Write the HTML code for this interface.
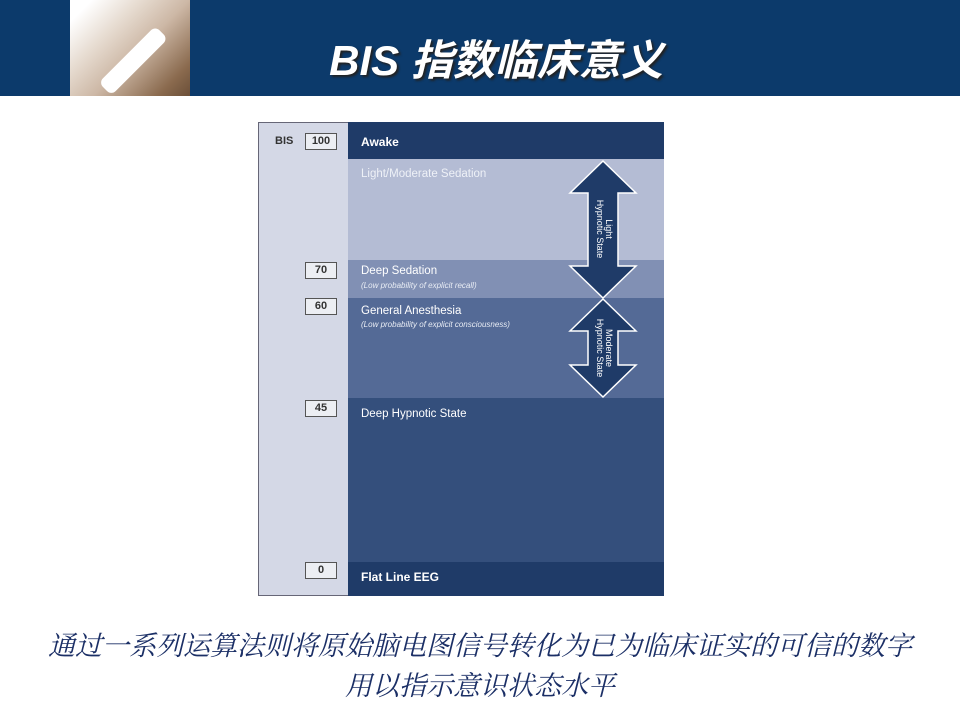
<!DOCTYPE html>
<html><head><meta charset="utf-8"><style>
*{margin:0;padding:0;box-sizing:border-box}
body{width:960px;height:720px;background:#fff;position:relative;overflow:hidden;font-family:"Liberation Sans","Noto Sans CJK SC",sans-serif}
.a{position:absolute}
.band{left:348px;width:316px}
.t{position:absolute;left:361px;color:#fff;font-size:11.5px}
.tb{font-weight:bold;font-size:12px}
.sub{font-style:italic;font-size:8px;color:#e8ecf4}
.num{position:absolute;left:305px;width:32px;height:17px;border:1.5px solid #555;background:#eceef3;font-size:11px;font-weight:bold;text-align:center;line-height:15px;color:#333}
.cn{position:absolute;left:0;width:960px;text-align:center;font-family:"Liberation Serif","Noto Serif CJK SC",serif;font-style:italic;color:#1b2f66;font-size:27px;white-space:nowrap}
</style></head><body>
<div class="a" style="left:0;top:0;width:960px;height:96px;background:#0c3a6b"></div>
<div class="a" style="left:70px;top:0;width:120px;height:96px;background:linear-gradient(135deg,#fff 10%,#e4d8cc 35%,#cdb8a6 55%,#8a6a4e 85%,#6b4f38 100%)"></div>
<div class="a" style="left:105px;top:80px;width:80px;height:18px;background:#fff;transform:rotate(-45deg);transform-origin:left;border-radius:6px"></div>
<div class="a" style="left:0;top:27px;width:992px;text-align:center;color:#fff;font-size:42px;font-weight:bold;font-style:italic;text-shadow:2px 2px 2px #222">BIS 指数临床意义</div>

<div class="a" style="left:258px;top:122px;width:406px;height:474px;border:1px solid #667;background:#d4d8e6"></div>
<div class="a band" style="top:122px;height:37px;background:#1f3b68"></div>
<div class="a band" style="top:159px;height:101px;background:#b4bcd4"></div>
<div class="a band" style="top:260px;height:38px;background:#8190b4"></div>
<div class="a band" style="top:298px;height:100px;background:#546a96"></div>
<div class="a band" style="top:398px;height:164px;background:#344f7c"></div>
<div class="a band" style="top:562px;height:34px;background:#1f3b68"></div>

<div class="a" style="left:275px;top:135px;font-size:11px;font-weight:bold;color:#333">BIS</div>
<div class="num" style="top:133px;">100</div>
<div class="num" style="top:262px;">70</div>
<div class="num" style="top:298px;">60</div>
<div class="num" style="top:400px;">45</div>
<div class="num" style="top:562px;">0</div>

<div class="t tb" style="top:135px">Awake</div>
<div class="t" style="top:168px;color:#eef1f7">Light/Moderate Sedation</div>
<div class="t" style="top:265px">Deep Sedation</div>
<div class="t sub" style="top:281px">(Low probability of explicit recall)</div>
<div class="t" style="top:305px">General Anesthesia</div>
<div class="t sub" style="top:320px">(Low probability of explicit consciousness)</div>
<div class="t" style="top:408px">Deep Hypnotic State</div>
<div class="t tb" style="top:570px">Flat Line EEG</div>

<svg class="a" style="left:0;top:0" width="960" height="720">
<polygon points="603,161 636,193 618,193 618,266 636,266 603,298 570,266 588,266 588,193 570,193" fill="#1f3b68" stroke="#fff" stroke-width="1.5"/>
<polygon points="603,299 636,331 618,331 618,365 636,365 603,397 570,365 588,365 588,331 570,331" fill="#1f3b68" stroke="#fff" stroke-width="1.5"/>
<text transform="translate(606,229) rotate(90)" text-anchor="middle" fill="#fff" font-size="9" font-family="Liberation Sans">Light</text>
<text transform="translate(597,229) rotate(90)" text-anchor="middle" fill="#fff" font-size="9" font-family="Liberation Sans">Hypnotic State</text>
<text transform="translate(606,348) rotate(90)" text-anchor="middle" fill="#fff" font-size="9" font-family="Liberation Sans">Moderate</text>
<text transform="translate(597,348) rotate(90)" text-anchor="middle" fill="#fff" font-size="9" font-family="Liberation Sans">Hypnotic State</text>
</svg>

<div class="cn" style="top:624px">通过一系列运算法则将原始脑电图信号转化为已为临床证实的可信的数字</div>
<div class="cn" style="top:664px">用以指示意识状态水平</div>
</body></html>
